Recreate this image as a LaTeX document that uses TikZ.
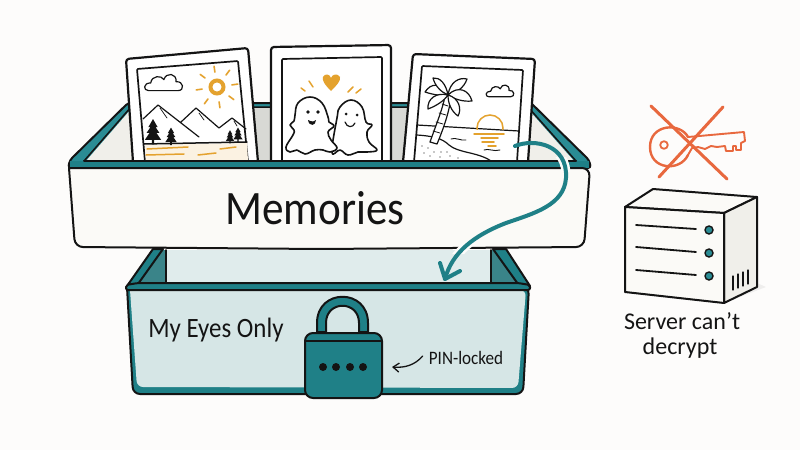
\documentclass[tikz,border=0pt]{standalone}
\usepackage{fontspec}
\setmainfont{Carlito}
\usetikzlibrary{arrows.meta,calc}
\definecolor{paper}{HTML}{FDFCFB}
\definecolor{ink}{HTML}{141414}
\definecolor{teal}{HTML}{2A8C94}
\definecolor{deepteal}{HTML}{1F8087}
\definecolor{wallteal}{HTML}{3A8489}
\definecolor{paleteal}{HTML}{D6E6E6}
\definecolor{sand}{HTML}{FBFAF7}
\definecolor{wallgrey}{HTML}{D8D9D5}
\definecolor{sidegrey}{HTML}{F0EFEA}
\definecolor{amber}{HTML}{E4A22E}
\definecolor{coral}{HTML}{E8683E}
\tikzset{
  inkline/.style={draw=ink,line width=2pt,line join=round,line cap=round},
  thinline/.style={draw=ink,line width=1.2pt,line join=round,line cap=round},
  sunline/.style={draw=amber,line width=1.5pt,line cap=round},
  cardframe/.style={draw=ink,fill=white,line width=2.2pt,line join=round},
  cardwindow/.style={draw=ink,fill=white,line width=1.7pt,line join=round},
  crossline/.style={draw=coral,line width=2.4pt,line cap=round,line join=round},
  hand/.style={text=ink,inner sep=0pt,anchor=center},
  flow/.style={draw=deepteal,line width=4pt,line cap=round},
  fir/.pic={
    \fill[ink] (0,-13) -- (4,-6) -- (2.2,-6) -- (5.5,-1) -- (3,-1) -- (7,5) -- (1,5) -- (1,9) -- (-1,9) -- (-1,5) -- (-7,5) -- (-3,-1) -- (-5.5,-1) -- (-2.2,-6) -- (-4,-6) -- cycle;
  },
  frond/.style={draw=ink,fill=white,line width=1.2pt,line join=round}
}
\newcommand{\puffcloud}[3]{%
  \draw[thinline,fill=white,xshift=#1pt,yshift=-#2pt,scale=#3]
    (-15,6) .. controls (-20,6) and (-20,-1) .. (-13,-1)
    .. controls (-12,-8) and (-3,-8) .. (-1,-4)
    .. controls (1,-11) and (11,-10) .. (10,-2)
    .. controls (17,-3) and (18,6) .. (12,6) -- cycle;}
\newcommand{\flowcurve}{(515,146) .. controls (535,138) and (568,145) .. (566,178)
  .. controls (564,205) and (535,213) .. (506,223)
  .. controls (475,235) and (452,252) .. (445,279)}
\begin{document}
\begin{tikzpicture}[x=1pt,y=-1pt]
\useasboundingbox (0,0) rectangle (800,450);
\fill[paper] (0,0) rectangle (800,450);

% lower box: interior
\fill[paleteal!75!white] (160,250) rectangle (497,283);
\fill[wallteal] (138,283) -- (163,250) -- (166,250) -- (166,283) -- cycle;
\fill[wallteal] (518,283) -- (493,250) -- (491,250) -- (491,283) -- cycle;
\draw[inkline,fill=deepteal] (153,249) -- (127,286) -- (138,284) -- (163,249) -- cycle;
\draw[inkline,fill=deepteal] (506,249) -- (530,286) -- (518,284) -- (493,249) -- cycle;
\draw[inkline,line width=1.6pt] (166,250) -- (166,283) (491,250) -- (491,283);
% lower box: rim and front face
\draw[inkline,fill=deepteal] (127,287) [rounded corners=7pt] -- (133,394) -- (523,394) -- (529,287) [sharp corners] -- cycle;
\fill[paleteal] (130,290) [rounded corners=6pt] -- (137,387) -- (518,388) -- (526,290) [sharp corners] -- cycle;
\draw[inkline,fill=deepteal,rounded corners=2pt] (126,290) -- (126,285) -- (138,283) -- (518,283) -- (530,285) -- (530,290) -- cycle;

% tray: rim and interior
\draw[inkline,fill=teal,rounded corners=3pt] (68,168) -- (70,160) -- (128,103) -- (531,103) -- (589,160) -- (591,168) -- cycle;
\fill[sidegrey] (86,161) -- (132,108) -- (527,108) -- (574,161) -- cycle;
\draw[inkline,line width=1.5pt] (84,161) -- (131,107) -- (528,107) -- (576,161);
\fill[wallgrey] (250,108) rectangle (412,161);

% first card: mountains
\draw[cardframe,rounded corners=3pt] (133,162) -- (126,59) -- (248,48) -- (258,162);
\draw[cardwindow,rounded corners=1pt] (145,162) -- (137,69) -- (238,61) -- (248,162);
\fill[amber!14!white] (145,145) -- (247,143) -- (248,161) -- (146,161) -- cycle;
\draw[sunline] (147,149) -- (188,147) (146,155) -- (184,154) (198,155) -- (216,153) (220,149) -- (236,147);
\draw[thinline] (143,119) -- (158,105) -- (199,137) (181,122) -- (196,108) -- (219,128) -- (232,118) -- (246,129);
\draw[thinline,line width=.7pt] (160,108) -- (167,118) (199,113) -- (204,120) (234,121) -- (237,126);
\draw[inkline,line width=1.5pt] (144,144) -- (247,142);
\pic[scale=1.15] at (153,134) {fir};
\pic[scale=.8] at (171,138) {fir};
\pic[scale=.6] at (230,138) {fir};
\pic[scale=.65] at (238,136) {fir};
\puffcloud{165}{84}{1.1}
\draw[amber,line width=4pt] (217,87) circle (6.5);
\foreach \a in {0,45,...,315}
  \draw[sunline,line width=1.6pt] (217,87) ++(\a-8:15) -- ++(\a-8:6);

% second card: two ghosts
\draw[cardframe,rounded corners=3pt] (271,162) -- (271,47) -- (391,45) -- (391,162);
\draw[cardwindow,rounded corners=1pt] (282,162) -- (282,59) -- (382,57) -- (382,162);
\draw[thinline,line width=1.6pt,fill=white] plot[smooth cycle,tension=.7] coordinates
  {(337,118) (340,107) (351,100) (362,107) (366,122) (372,125) (367,132) (369,142) (377,150) (367,152) (358,152) (348,155) (340,150) (332,152)};
\draw[thinline,line width=1.6pt,fill=white] plot[smooth cycle,tension=.7] coordinates
  {(295,115) (298,103) (310,97) (322,103) (328,117) (329,122) (334,126) (328,132) (331,140) (337,148) (330,152) (323,150) (315,150) (305,154) (297,150) (290,152) (286,147) (293,135) (294,130) (290,125) (294,121)};
\fill[ink] (308,112) circle (1.8) (318,112) circle (1.8) (346,114) circle (1.5) (357,115) circle (1.5);
\fill[ink] (308,120) .. controls (312,122) and (315,122) .. (316,120) .. controls (316,126) and (309,127) .. (308,120) -- cycle;
\draw[thinline,line width=1.2pt] (345,122) .. controls (347,128) and (353,128) .. (355,123);
\fill[amber] (331,91) .. controls (324,84) and (322,80) .. (323,77) .. controls (325,73) and (330,74) .. (331,78) .. controls (332,74) and (338,73) .. (340,77) .. controls (341,81) and (336,86) .. (331,91) -- cycle;
\draw[sunline] (301,88) -- (305,91) (309,81) -- (313,87) (353,87) -- (348,92) (361,89) -- (356,93);

% third card: beach and palm
\draw[cardframe,rounded corners=3pt] (403,162) -- (413,54) -- (535,59) -- (528,162);
\draw[cardwindow,rounded corners=1pt] (414,162) -- (422,66) -- (523,70) -- (517,162);
\draw[thinline] (417,125) -- (519,131);
\begin{scope}
  \clip (417,110) rectangle (520,129);
  \draw[amber,line width=1.5pt] (490,128) circle (13);
\end{scope}
\draw[sunline] (474,134) -- (504,134) (481,138) -- (498,138) (482,142) -- (494,142) (488,146) -- (496,146);
\draw[thinline,line width=.9pt] (451,139) .. controls (455,137) and (461,141) .. (466,140)
  (484,150) .. controls (488,148) and (494,152) .. (500,150);
\draw[thinline] (417,135) .. controls (432,136) and (442,138) .. (449,145) .. controls (458,153) and (478,152) .. (491,161);
\foreach \dx/\dy in {422/146,428/148,434/152,441/152,447/152,424/153,430/156,440/157,450/156,458/158}
  \fill[ink] (\dx,\dy) circle (.7);
\draw[thinline,fill=white] (430,142) .. controls (436,125) and (443,108) .. (445,96) -- (451,96) .. controls (450,110) and (443,130) .. (437,144) -- cycle;
\draw[thinline,line width=.8pt] (433,131) -- (440,133) (436,122) -- (443,124) (439,113) -- (446,115) (442,104) -- (448,106);
\draw[frond] (448,95) .. controls (440,82) and (431,83) .. (425,92) .. controls (434,95) and (442,96) .. (448,95) -- cycle;
\draw[frond] (448,95) .. controls (436,92) and (427,99) .. (428,109) .. controls (436,106) and (444,101) .. (448,95) -- cycle;
\draw[frond] (448,95) .. controls (446,84) and (440,77) .. (433,78) .. controls (435,86) and (441,92) .. (448,95) -- cycle;
\draw[frond] (448,95) .. controls (450,82) and (459,77) .. (467,79) .. controls (464,88) and (456,93) .. (448,95) -- cycle;
\draw[frond] (448,95) .. controls (458,85) and (469,90) .. (472,101) .. controls (463,102) and (454,99) .. (448,95) -- cycle;
\draw[frond] (448,95) .. controls (459,98) and (462,109) .. (458,116) .. controls (451,111) and (448,103) .. (448,95) -- cycle;
\puffcloud{501}{92}{.8}

% tray: front face with rim
\fill[deepteal] (70,161) rectangle (589,168);
\draw[inkline] (84,161) -- (576,161);
\draw[inkline,fill=sand] (69,168) [rounded corners=8pt] -- (75,247) -- (320,249) -- (584,247) -- (590,168) [sharp corners] -- cycle;

% padlock
\draw[inkline,fill=deepteal] (317,332) -- (317,323) .. controls (317,288) and (368,288) .. (368,323) -- (368,332)
  -- (359,332) -- (359,323) .. controls (359,300) and (326,300) .. (326,323) -- (326,332) -- cycle;
\draw[inkline,fill=deepteal,rounded corners=8pt] (305,333) rectangle (382,398);
\draw[ink,line width=1.3pt] (306,341) -- (381,341);
\foreach \xp in {323,336,350,363} \fill[ink] (\xp,367) circle (4);

% labels
\node[hand,font=\fontsize{48}{48}\selectfont] (memlabel) at (315,208) {\scalebox{.9}[1]{Memories}};
\node[hand,font=\fontsize{28}{28}\selectfont] (eyeslabel) at (216,330) {\scalebox{.89}[1]{My Eyes Only}};
\node[hand,font=\fontsize{19}{19}\selectfont] (pinlabel) at (466,358) {\scalebox{.9}[1]{PIN-locked}};
\node[hand,font=\fontsize{24}{24}\selectfont] (srvlabel) at (682,321) {Server can't};
\node[hand,font=\fontsize{24}{24}\selectfont] (declabel) at (680,348) {decrypt};

% note arrow towards the padlock
\coordinate (pintail) at ($(pinlabel.west)+(-6,-2)$);
\coordinate (pinhead) at (392,367);
\draw[ink,line width=1.3pt,line cap=round,-{Straight Barb[length=6pt,width=9pt]}] (pintail) .. controls (415,365) and (405,368) .. (pinhead);

% crossed-out key
\draw[crossline,fill=none] (688,137) .. controls (680,122) and (650,124) .. (650,147)
  .. controls (650,170) and (680,172) .. (688,155);
\draw[crossline,line width=1.8pt] (664,145) circle (3.8);
\draw[crossline,line width=1.9pt] (688,137) -- (744,132) -- (745,141) -- (741,143) -- (741,150) -- (736,150) -- (736,146) -- (733,146) -- (733,151) -- (726,151) -- (725,146) -- (717,147) -- (711,146) -- (705,149) -- (698,147) -- (692,148) -- (688,155);
\coordinate (xa) at (651,106);
\coordinate (xb) at (727,179);
\coordinate (xc) at (723,107);
\coordinate (xd) at (659,177);
\draw[crossline,line width=3pt] (xa) -- (xb);
\draw[crossline,line width=3pt] (xc) -- (xd);

% server
\fill[ink,opacity=.06] (724,303) -- (766,287) -- (757,283) -- cycle;
\draw[inkline,fill=sand] (625,207) -- (653,189) -- (757,197) -- (724,213) -- cycle;
\draw[inkline,fill=sidegrey] (724,213) -- (757,197) -- (757,287) -- (724,303) -- cycle;
\draw[inkline,fill=sand] (625,207) -- (724,213) -- (724,303) -- (625,292) -- cycle;
\foreach \ya/\yb/\yd in {225/229/230,247/252/253,270/275/276} {
  \draw[inkline,line width=1.8pt] (636,\ya) -- (696,\yb);
  \draw[ink,line width=1.4pt,fill=teal] (709,\yd) circle (4);
}
\foreach \vx/\vy in {733/290,738/288,743/286,748/284}
  \draw[ink,line width=1.3pt,line cap=round] (\vx,\vy) -- (\vx,\vy-14);

% arrow from the third card down into the lower box, with a small gap where it crosses the tray edges
\begin{scope}
  \clip (552,157) rectangle (580,172) (450,243) rectangle (480,254);
  \draw[paper,line width=9pt] \flowcurve;
\end{scope}
\coordinate (flowstart) at (515,146);
\coordinate (flowend) at (445,279);
\draw[flow] \flowcurve;
\draw[flow,line join=round] (440,263) -- (flowend) -- (460,271);
\end{tikzpicture}
\end{document}
